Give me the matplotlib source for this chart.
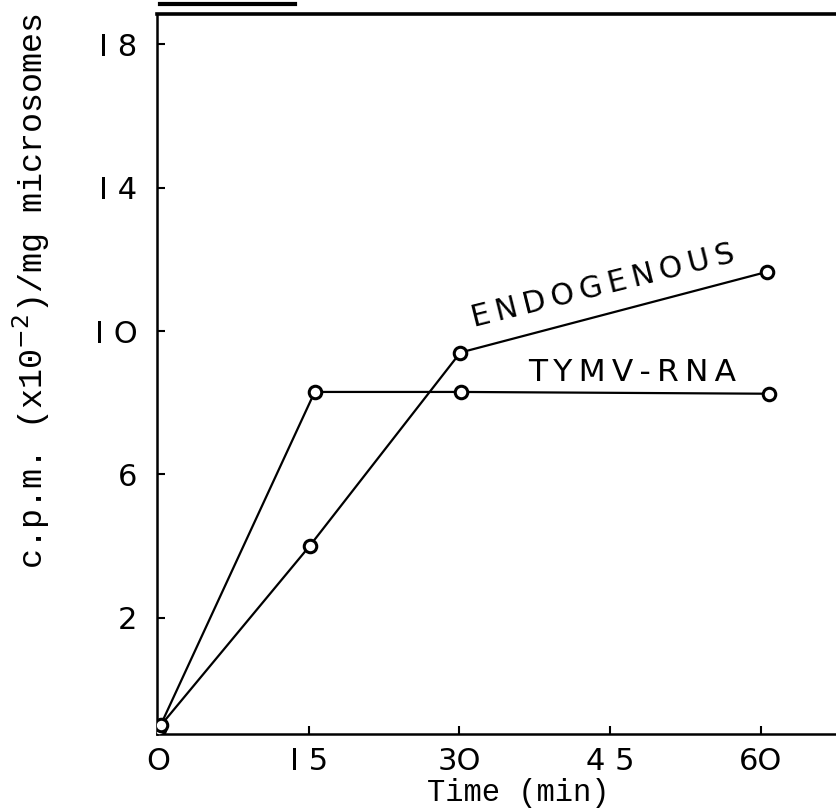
import matplotlib
matplotlib.use("Agg")
import matplotlib.pyplot as plt
from matplotlib.lines import Line2D

# Incorporation time course (minutes vs c.p.m. x10^-2 per mg microsomes)
tymv_time = [0.1, 15.6, 30.2, 60.8]
tymv_cpm = [-1.1, 8.3, 8.3, 8.25]

endo_time = [0.3, 15.1, 30.1, 60.6]
endo_cpm = [-1.0, 4.0, 9.4, 11.65]

x_ticks = [0, 15, 30, 45, 60]
x_tick_labels = ["O", "I 5", "3O", "4 5", "6O"]
y_ticks = [2, 6, 10, 14, 18]
y_tick_labels = ["2", "6", "I O", "I 4", "I 8"]

THIN = "\u2009"

fig = plt.figure(figsize=(8.36, 8.11), dpi=100)
ax = fig.add_axes([0.1878, 0.0949, 0.8122, 0.8878])

ax.set_xlim(-0.1, 67.5)
ax.set_ylim(-1.25, 18.85)

line_kw = dict(color="black", lw=1.6, marker="o", ms=9, mfc="white",
               mec="black", mew=2.2, zorder=3)
ax.plot(tymv_time, tymv_cpm, **line_kw)
ax.plot(endo_time, endo_cpm, **line_kw)

ax.text(36.8, 8.6, THIN.join("TYMV-RNA"), fontsize=22.5, ha="left",
        va="baseline", family="DejaVu Sans")
ax.text(31.5, 10.1, THIN.join("ENDOGENOUS"), fontsize=21.5, ha="left",
        va="baseline", rotation=14, rotation_mode="anchor",
        family="DejaVu Sans")

ax.set_xticks(x_ticks)
ax.set_xticklabels(x_tick_labels, fontsize=22, family="DejaVu Sans")
ax.set_yticks(y_ticks)
ax.set_yticklabels(y_tick_labels, fontsize=22, family="DejaVu Sans")
ax.tick_params(axis="both", direction="in", length=6, width=1.5)
ax.tick_params(axis="x", pad=9)
ax.tick_params(axis="y", pad=14)

for side in ("left", "bottom"):
    ax.spines[side].set_linewidth(1.8)
ax.spines["top"].set_linewidth(2.6)
ax.spines["right"].set_visible(False)

ax.set_xlabel("Time (min)", fontsize=22, family="Liberation Mono")
ax.xaxis.set_label_coords(0.532, -0.061)
ax.set_ylabel(r"c.p.m. (x10$^{-2}$)/mg microsomes", fontsize=24,
              family="Liberation Mono")
ax.yaxis.set_label_coords(-0.155, 0.615)

# Underline fragment of the caption above the frame
fig.add_artist(Line2D([160 / 836, 295 / 836], [1 - 4 / 811, 1 - 4 / 811],
                      color="black", lw=3.0, transform=fig.transFigure))

fig.savefig("out.png", dpi=100)
